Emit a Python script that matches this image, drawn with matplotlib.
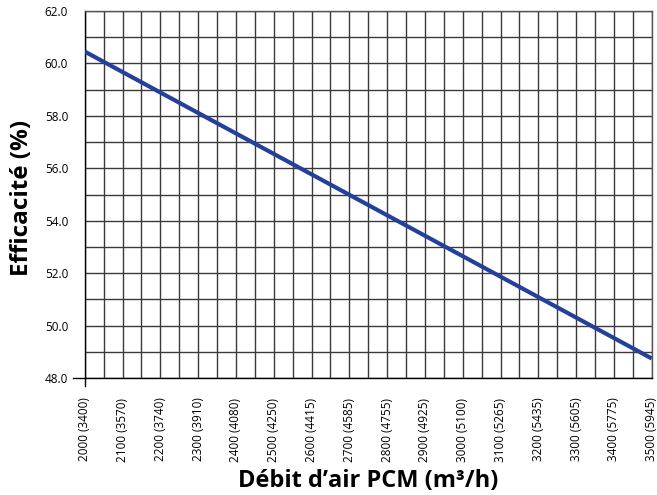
import matplotlib.pyplot as plt
import numpy as np

# Débit d'air PCM (valeurs principales) et équivalent m3/h entre parenthèses
debit = [2000, 2100, 2200, 2300, 2400, 2500, 2600, 2700,
         2800, 2900, 3000, 3100, 3200, 3300, 3400, 3500]
debit_m3h = [3400, 3570, 3740, 3910, 4080, 4250, 4415, 4585,
             4755, 4925, 5100, 5265, 5435, 5605, 5775, 5945]
# Efficacité (%)
efficacite = [60.45, 59.67, 58.89, 58.11, 57.33, 56.55, 55.77, 54.99,
              54.21, 53.43, 52.65, 51.87, 51.09, 50.31, 49.53, 48.75]

plt.rcParams['font.family'] = ['Open Sans', 'DejaVu Sans']

fig = plt.figure(figsize=(6.57, 4.95), dpi=100)
ax = fig.add_axes([0.129, 0.236, 0.863, 0.742])

# grille : verticales tous les 50, horizontales tous les 1
for xv in np.arange(2000, 3501, 50):
    ax.axvline(xv, color='#3a3a3a', lw=1.0, zorder=1)
for yv in np.arange(48, 62.1, 1):
    ax.axhline(yv, color='#3a3a3a', lw=1.0, zorder=1)

ax.plot(debit, efficacite, color='#23409a', lw=3, zorder=3, solid_capstyle='butt')

ax.set_xlim(2000, 3500)
ax.set_ylim(48, 62)
ax.set_xticks(debit)
ax.set_xticklabels([f"{d} ({m})" for d, m in zip(debit, debit_m3h)],
                   rotation=90, fontsize=8.5)
ax.set_yticks(np.arange(48, 62.1, 2))
ax.set_yticklabels([f"{v:.1f}" for v in np.arange(48, 62.1, 2)], fontsize=8.5)
ax.tick_params(axis='x', length=0, pad=14)
ax.tick_params(axis='y', length=0, pad=12)

for s in ax.spines.values():
    s.set_color('#555555')
    s.set_linewidth(1.0)
ax.spines['left'].set_color('black')
ax.spines['bottom'].set_color('black')

# petit trait à 48.0
ax.plot([-0.02, 0], [0, 0], transform=ax.transAxes, color='black', lw=1,
        clip_on=False)
ax.plot([0, 0], [-0.02, 0], transform=ax.transAxes, color='black', lw=1,
        clip_on=False)

ax.set_ylabel("Efficacité (%)", fontsize=17.5, fontweight='bold')
ax.yaxis.label.set_verticalalignment('center')
ax.yaxis.set_label_coords(-0.11, 0.49)
ax.set_xlabel("Débit d’air PCM (m³/h)", fontsize=17, fontweight='bold')
ax.xaxis.label.set_verticalalignment('baseline')
ax.xaxis.set_label_coords(0.5, -0.297)

fig.savefig("out.png", dpi=100)
